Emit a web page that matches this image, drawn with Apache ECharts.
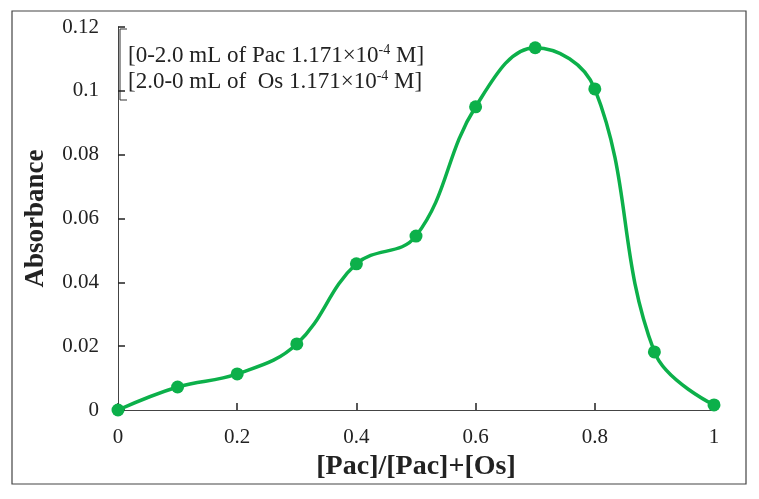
<!DOCTYPE html>
<html>
<head>
<meta charset="utf-8">
<script src="https://cdn.jsdelivr.net/npm/echarts@6/dist/echarts.min.js"></script>
<style>
  html, body { margin: 0; padding: 0; background: #fff; }
  #chart { width: 759px; height: 499px; }
</style>
</head>
<body>
<div id="chart"></div>
<script>
'use strict';

// mole fraction [Pac]/([Pac]+[Os])
var fractions = [0, 0.1, 0.2, 0.3, 0.4, 0.5, 0.6, 0.7, 0.8, 0.9, 1.0];
var absorbance = [0, 0.0072, 0.0113, 0.0207, 0.0458, 0.0545, 0.095, 0.1135, 0.1006, 0.0182, 0.0016];

var xTicks = { min: 0, max: 1, step: 0.2 };
var yTicks = { min: 0, max: 0.12, step: 0.02 };

var green = '#0cb04a';
var serif = '"Liberation Serif", "DejaVu Serif", serif';

var myChart = echarts.init(document.getElementById('chart'));

var tickStyle = { show: true, inside: true, length: 7, lineStyle: { color: '#222', width: 1.5 } };

var option = {
    backgroundColor: '#fff',
    animation: false,
    textStyle: { fontFamily: serif, color: '#222' },
    grid: {
        left: 118,
        right: 45,
        top: 27,
        bottom: 89,
        containLabel: false
    },
    title: {
        left: 123,
        top: 38,
        text: '{t|[0-2.0 mL of Pac 1.171×10}{s|-4}{t| M]}\n{t|[2.0-0 mL of  Os 1.171×10}{s|-4}{t| M]}',
        textStyle: {
            fontWeight: 'normal',
            rich: {
                t: { fontFamily: serif, fontSize: 23, fontWeight: 'normal', color: '#222', lineHeight: 26 },
                s: { fontFamily: serif, fontSize: 14, fontWeight: 'normal', color: '#222', verticalAlign: 'top', lineHeight: 26, padding: [0, 0, 8, 0] }
            }
        }
    },
    graphic: [
        {
            // outer frame of the figure
            type: 'rect',
            shape: { x: 12, y: 11, width: 734, height: 473 },
            style: { fill: 'none', stroke: '#444', lineWidth: 1.2 },
            silent: true
        },
        {
            // text box bracket
            type: 'polyline',
            shape: { points: [[127, 29], [120, 29], [120, 100], [127, 100]] },
            style: { fill: 'none', stroke: '#333', lineWidth: 1 },
            silent: true
        }
    ],
    xAxis: {
        type: 'value',
        min: xTicks.min,
        max: xTicks.max,
        interval: xTicks.step,
        name: '[Pac]/[Pac]+[Os]',
        nameLocation: 'middle',
        nameGap: 37,
        nameTextStyle: { fontFamily: serif, fontSize: 28, fontWeight: 'bold', color: '#222' },
        axisLine: { show: true, lineStyle: { color: '#444', width: 1 } },
        axisTick: tickStyle,
        axisLabel: {
            fontFamily: serif, fontSize: 21, color: '#222', margin: 17,
            formatter: function (v) { return String(+v.toFixed(2)); }
        },
        splitLine: { show: false }
    },
    yAxis: {
        type: 'value',
        min: yTicks.min,
        max: yTicks.max,
        interval: yTicks.step,
        name: 'Absorbance',
        nameLocation: 'middle',
        nameGap: 68,
        nameTextStyle: { fontFamily: serif, fontSize: 27, fontWeight: 'bold', color: '#222' },
        axisLine: { show: true, lineStyle: { color: '#444', width: 1 } },
        axisTick: tickStyle,
        axisLabel: {
            fontFamily: serif, fontSize: 21, color: '#222', margin: 19,
            formatter: function (v) { return String(+v.toFixed(2)); }
        },
        splitLine: { show: false }
    },
    series: [
        {
            type: 'line',
            data: fractions.map(function (x, i) { return [x, absorbance[i]]; }),
            smooth: 0.4,
            symbol: 'circle',
            symbolSize: 13,
            showAllSymbol: true,
            clip: false,
            lineStyle: { color: green, width: 3.5 },
            itemStyle: { color: green }
        }
    ]
};

myChart.setOption(option);

window.onresize = function () {
    myChart.resize();
};
</script>
</body>
</html>
